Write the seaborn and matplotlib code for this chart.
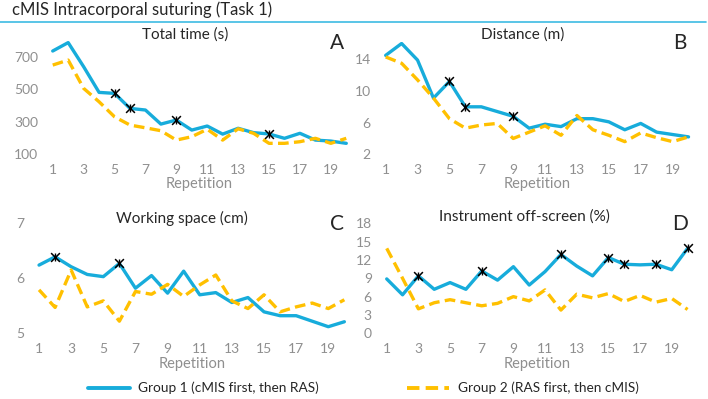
import matplotlib
matplotlib.use('Agg')
import matplotlib.pyplot as plt
from matplotlib.lines import Line2D
import pandas as pd
import seaborn as sns

reps = list(range(1, 21))
group1_label = 'Group 1 (cMIS first, then RAS)'
group2_label = 'Group 2 (RAS first, then cMIS)'

# A: total time (s)
time_g1 = [737, 789, 640, 481, 475, 382, 372, 285, 310, 248, 273, 223, 259, 232, 224, 197, 228, 186, 180, 166]
time_g2 = [650, 681, 506, 423, 330, 279, 262, 244, 186, 207, 253, 186, 256, 228, 166, 166, 176, 197, 166, 197]
time_sig = [5, 6, 9, 15]

# B: distance (m)
dist_g1 = [14.5, 16.0, 13.9, 9.1, 11.2, 8.0, 8.0, 7.4, 6.8, 5.3, 5.8, 5.5, 6.5, 6.5, 6.1, 5.1, 5.9, 4.8, 4.5, 4.2]
dist_g2 = [14.3, 13.5, 11.4, 9.1, 6.5, 5.3, 5.7, 5.9, 4.0, 4.8, 5.6, 4.4, 6.9, 5.1, 4.4, 3.6, 4.7, 4.1, 3.6, 4.2]
dist_sig = [5, 6, 9]

# C: working space (cm)
space_g1 = [6.24, 6.39, 6.21, 6.07, 6.03, 6.27, 5.82, 6.05, 5.73, 6.13, 5.70, 5.74, 5.56, 5.65, 5.39, 5.32, 5.32, 5.22, 5.12, 5.21]
space_g2 = [5.79, 5.47, 6.15, 5.48, 5.59, 5.22, 5.76, 5.71, 5.89, 5.67, 5.88, 6.06, 5.59, 5.45, 5.70, 5.39, 5.48, 5.55, 5.45, 5.61]
space_sig = [2, 6]

# D: instrument off-screen (%)
off_g1 = [8.9, 6.3, 9.4, 7.2, 8.3, 7.2, 10.2, 8.7, 10.9, 7.9, 10.1, 12.9, 11.0, 9.4, 12.4, 11.3, 11.2, 11.3, 10.4, 13.9]
off_g2 = [13.9, 9.0, 4.0, 5.0, 5.5, 5.0, 4.5, 4.9, 6.0, 5.3, 7.1, 3.8, 6.4, 5.8, 6.5, 5.2, 6.2, 5.1, 5.7, 3.9]
off_sig = [3, 7, 12, 15, 16, 18, 20]

blue = '#17ACDB'
gold = '#FFC000'
grey = '#8F8F8F'

sns.set_style('white')
plt.rcParams['font.family'] = ['Lato', 'DejaVu Sans']

W, H = 708, 399
fig = plt.figure(figsize=(W / 100, H / 100), dpi=100)


def px_axes(left, top, right, bottom):
	return fig.add_axes([left / W, 1 - bottom / H, (right - left) / W, (bottom - top) / H])


def panel(ax, g1, g2, sig, ylim, yticks, title, letter, title_xy, letter_xy, xlabel_y):
	df = pd.DataFrame({
		'rep': reps * 2,
		'value': g1 + g2,
		'group': [group1_label] * len(reps) + [group2_label] * len(reps),
	})
	sns.lineplot(data=df, x='rep', y='value', hue='group', style='group',
				 palette={group1_label: blue, group2_label: gold},
				 dashes={group1_label: '', group2_label: (3.2, 1.6)},
				 linewidth=2.4, legend=False, ax=ax)
	# excel-style star marker: an x with a short vertical bar
	sig_vals = [g1[r - 1] for r in sig]
	sns.scatterplot(x=sig, y=sig_vals, marker='x', s=40, color='black',
					linewidth=1.1, ax=ax, zorder=5)
	sns.scatterplot(x=sig, y=sig_vals, marker='|', s=30, color='black',
					linewidth=1.0, ax=ax, zorder=5)
	ax.set_xlim(0.5, 20.5)
	ax.set_ylim(*ylim)
	ax.set_yticks(yticks)
	ax.set_xticks(range(1, 20, 2))
	ax.tick_params(colors=grey, labelsize=10, length=0)
	ax.tick_params(axis='x', pad=7)
	ax.tick_params(axis='y', pad=5)
	ax.set_xlabel('')
	ax.set_ylabel('')
	for s in ax.spines.values():
		s.set_visible(False)
	fig.text(title_xy[0] / W, 1 - title_xy[1] / H, title, ha='center', va='center', fontsize=11)
	fig.text(letter_xy[0] / W, 1 - letter_xy[1] / H, letter, ha='center', va='center', fontsize=15)
	cx = (ax.get_position().x0 + ax.get_position().x1) / 2
	fig.text(cx, 1 - xlabel_y / H, 'Repetition', ha='center', va='center', fontsize=10.5, color=grey)


ax_a = px_axes(45, 39.2, 354, 154)
panel(ax_a, time_g1, time_g2, time_sig, (100, 810), [100, 300, 500, 700],
	  'Total time (s)', 'A', (185, 35), (337, 43), 184)

ax_b = px_axes(377.7, 41.9, 696.5, 154.3)
panel(ax_b, dist_g1, dist_g2, dist_sig, (2, 16.2), [2, 6, 10, 14],
	  'Distance (m)', 'B', (523, 35), (680, 43), 184)

ax_c = px_axes(31, 223.3, 352.4, 333.3)
panel(ax_c, space_g1, space_g2, space_sig, (5, 7), [5, 6, 7],
	  'Working space (cm)', 'C', (182, 218), (337, 224), 364)

ax_d = px_axes(378.8, 223.3, 695.5, 333.3)
panel(ax_d, off_g1, off_g2, off_sig, (0, 18), [0, 3, 6, 9, 12, 15, 18],
	  'Instrument off-screen (%)', 'D', (524, 217), (680, 224), 364)

fig.text(12 / W, 1 - 10 / H, 'cMIS Intracorporal suturing (Task 1)', ha='left', va='center', fontsize=12)
fig.add_artist(Line2D([0, 706 / W], [1 - 22 / H, 1 - 22 / H], color='#3DBBE3', linewidth=1.2))

handles = [Line2D([], [], color=blue, linewidth=2.8),
		   Line2D([], [], color=gold, linewidth=2.8, linestyle=(0, (3.2, 1.6)))]
fig.legend(handles, [group1_label, group2_label], loc='center', ncol=2,
		   bbox_to_anchor=(363 / W, 1 - 388 / H), frameon=False, fontsize=9.8,
		   handlelength=3.1, columnspacing=6.5, handletextpad=0.6)

fig.savefig('out.png', dpi=100)
